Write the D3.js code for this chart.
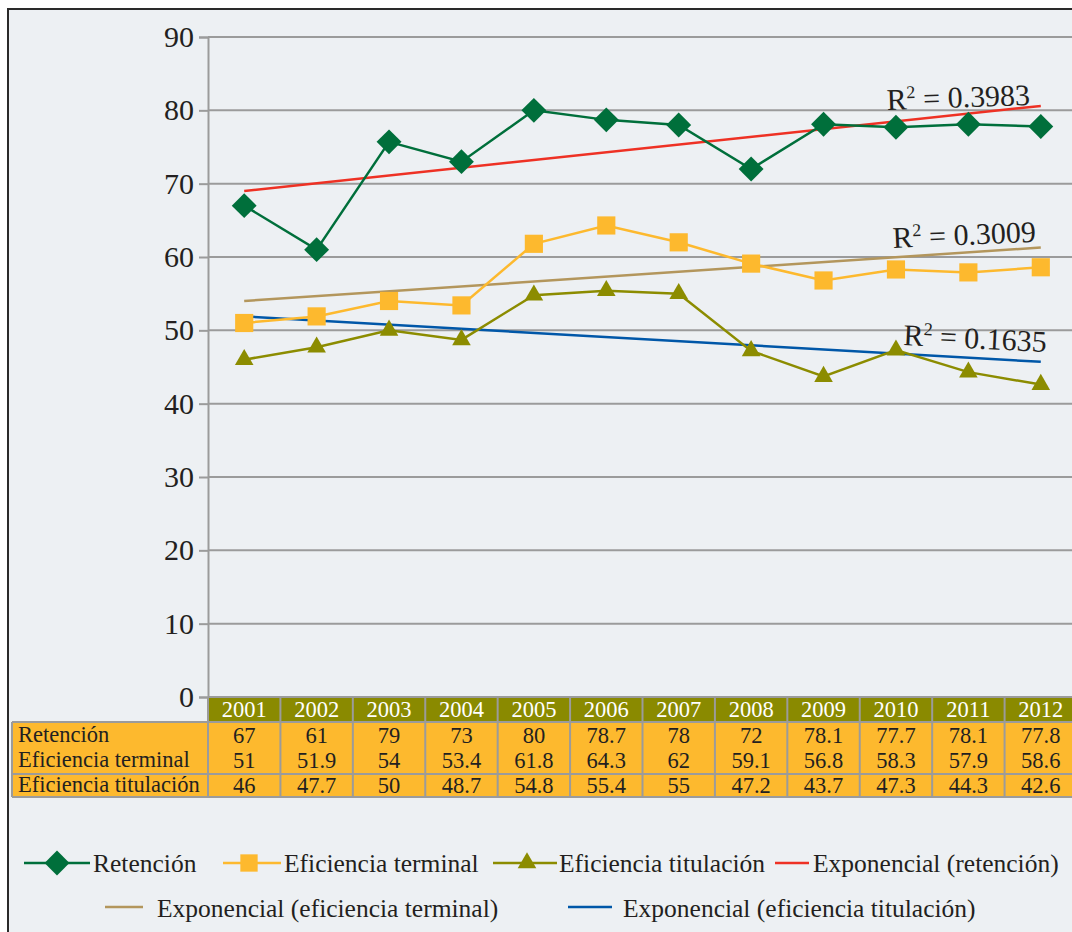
<!DOCTYPE html>
<html lang="es">
<head>
<meta charset="UTF-8">
<title>Retención y eficiencia 2001-2012</title>
<script src="https://cdnjs.cloudflare.com/ajax/libs/d3/7.8.5/d3.min.js"></script>
<style>
    body { margin: 0; background: #fff; }
    svg text { font-family: "Liberation Serif", "DejaVu Serif", serif; fill: #231f20; }
</style>
</head>
<body>
<svg width="1072" height="932"></svg>
<script>
    // data
    const years = ["2001", "2002", "2003", "2004", "2005", "2006", "2007", "2008", "2009", "2010", "2011", "2012"];
    // values as plotted in the chart
    const retencion = [67, 61, 75.7, 73, 80, 78.7, 78, 72, 78.1, 77.7, 78.1, 77.8];
    const eficienciaTerminal = [51, 51.9, 54, 53.4, 61.8, 64.3, 62, 59.1, 56.8, 58.3, 57.9, 58.6];
    const eficienciaTitulacion = [46, 47.7, 50, 48.7, 54.8, 55.4, 55, 47.2, 43.7, 47.3, 44.3, 42.6];
    // values as printed in the data table
    const tablaRetencion = ["67", "61", "79", "73", "80", "78.7", "78", "72", "78.1", "77.7", "78.1", "77.8"];
    const tablaTerminal = ["51", "51.9", "54", "53.4", "61.8", "64.3", "62", "59.1", "56.8", "58.3", "57.9", "58.6"];
    const tablaTitulacion = ["46", "47.7", "50", "48.7", "54.8", "55.4", "55", "47.2", "43.7", "47.3", "44.3", "42.6"];
    // exponential trend lines: value at 2001 and at 2012
    const trendRetencion = [69.0, 80.6];
    const trendTerminal = [54.0, 61.3];
    const trendTitulacion = [51.9, 45.7];
    const r2Labels = ["0.3983", "0.3009", "0.1635"];
    const yTicks = [0, 10, 20, 30, 40, 50, 60, 70, 80, 90];

    const svg = d3.select("svg");
    const grid = "#9b9b9b";
    const serif = "'Liberation Serif', 'DejaVu Serif', serif";

    // frame
    svg.append("rect")
        .attr("x", 8).attr("y", 9).attr("width", 1100).attr("height", 960)
        .attr("fill", "#edf0f3").attr("stroke", "#2a2a2a").attr("stroke-width", 2);

    const x = d3.scaleBand().domain(years).range([208, 1077]);
    const y = d3.scaleLinear().domain([0, 90]).range([697, 37]);
    const cx = d => x(d) + x.bandwidth() / 2;

    // gridlines
    svg.append("g").selectAll("line")
        .data(yTicks.filter(t => t > 0))
        .join("line")
        .attr("x1", 208).attr("x2", 1080)
        .attr("y1", d => y(d)).attr("y2", d => y(d))
        .attr("stroke", grid).attr("stroke-width", 2);

    // y axis
    const yAxis = svg.append("g")
        .attr("transform", "translate(208,0)")
        .call(d3.axisLeft(y).tickValues(yTicks).tickSize(9).tickPadding(5));
    yAxis.attr("font-family", null);
    yAxis.select(".domain").attr("stroke", grid).attr("stroke-width", 2);
    yAxis.selectAll(".tick line").attr("stroke", grid).attr("stroke-width", 2);
    yAxis.selectAll(".tick text")
        .style("font-family", serif)
        .style("font-size", "30px").style("fill", "#231f20");

    // data table
    const table = svg.append("g");
    const tTop = 697, tHead = 722, tMid = 774, tBot = 797;
    table.append("rect").attr("x", 208).attr("y", tTop).attr("width", 870).attr("height", tHead - tTop)
        .attr("fill", "#8a8a00");
    table.append("rect").attr("x", 12).attr("y", tHead).attr("width", 1066).attr("height", tBot - tHead)
        .attr("fill", "#fdb92e");
    table.selectAll("line.h")
        .data([[208, tTop], [12, tHead], [12, tMid], [12, tBot]])
        .join("line")
        .attr("x1", d => d[0]).attr("x2", 1080)
        .attr("y1", d => d[1]).attr("y2", d => d[1])
        .attr("stroke", grid).attr("stroke-width", 2);
    table.append("line").attr("x1", 12).attr("x2", 12).attr("y1", tHead).attr("y2", tBot)
        .attr("stroke", grid).attr("stroke-width", 2);
    table.selectAll("line.v")
        .data(years)
        .join("line")
        .attr("x1", d => x(d)).attr("x2", d => x(d))
        .attr("y1", tTop).attr("y2", tBot)
        .attr("stroke", grid).attr("stroke-width", 2);

    table.selectAll("text.year")
        .data(years)
        .join("text")
        .attr("x", cx).attr("y", 717)
        .attr("text-anchor", "middle").attr("font-size", 22.5)
        .style("fill", "#fff")
        .text(d => d);

    const rows = [
        { label: "Retención", values: tablaRetencion, y: 743 },
        { label: "Eficiencia terminal", values: tablaTerminal, y: 768 },
        { label: "Eficiencia titulación", values: tablaTitulacion, y: 793 }
    ];
    rows.forEach(r => {
        table.append("text").attr("x", 18).attr("y", r.y - 1).attr("font-size", 22.5).text(r.label);
        table.selectAll(null)
            .data(r.values)
            .join("text")
            .attr("x", (d, i) => cx(years[i])).attr("y", r.y)
            .attr("text-anchor", "middle").attr("font-size", 22.5)
            .text(d => d);
    });

    // trend lines
    const trends = [
        { vals: trendRetencion, color: "#ee3124" },
        { vals: trendTerminal, color: "#b3965c" },
        { vals: trendTitulacion, color: "#0057a8" }
    ];
    const line = d3.line().x(d => d[0]).y(d => y(d[1]));
    trends.forEach(t => {
        svg.append("path")
            .attr("d", line([[cx(years[0]), t.vals[0]], [cx(years[years.length - 1]), t.vals[1]]]))
            .attr("fill", "none").attr("stroke", t.color).attr("stroke-width", 2.5);
    });

    // series
    const series = [
        { name: "Retención", vals: retencion, color: "#006f3b", symbol: d3.symbolSquare, size: 310, rotate: 45 },
        { name: "Eficiencia terminal", vals: eficienciaTerminal, color: "#fdb92e", symbol: d3.symbolSquare, size: 330, rotate: 0 },
        { name: "Eficiencia titulación", vals: eficienciaTitulacion, color: "#8c8c00", symbol: d3.symbolTriangle, size: 150, rotate: 0 }
    ];
    series.forEach(s => {
        const pts = s.vals.map((v, i) => [cx(years[i]), v]);
        svg.append("path")
            .attr("d", line(pts))
            .attr("fill", "none").attr("stroke", s.color).attr("stroke-width", 2.5);
        svg.append("g").selectAll("path")
            .data(pts)
            .join("path")
            .attr("d", d3.symbol(s.symbol, s.size))
            .attr("transform", d => `translate(${d[0]},${y(d[1])}) rotate(${s.rotate})`)
            .attr("fill", s.color);
    });

    // R² labels
    const r2Pos = [[887, 110, -2], [893, 248, -2.5], [903, 345, 2.8]];
    r2Labels.forEach((v, i) => {
        const p = r2Pos[i];
        const t = svg.append("text")
            .attr("transform", `translate(${p[0]},${p[1]}) rotate(${p[2]})`)
            .attr("font-size", 30);
        t.append("tspan").text("R");
        t.append("tspan").attr("font-size", 18).attr("dy", -11).text("2");
        t.append("tspan").attr("dy", 11).text(" = " + v);
    });

    // legend
    const legend = svg.append("g");
    const legendItems = [
        { text: "Retención", color: "#006f3b", x1: 24, x2: 90, ly: 863, tx: 93, ty: 872, mark: "diamond" },
        { text: "Eficiencia terminal", color: "#fdb92e", x1: 223, x2: 281, ly: 863, tx: 284, ty: 872, mark: "square" },
        { text: "Eficiencia titulación", color: "#8c8c00", x1: 493, x2: 557, ly: 863, tx: 559, ty: 872, mark: "triangle" },
        { text: "Exponencial (retención)", color: "#ee3124", x1: 775, x2: 809, ly: 863, tx: 813, ty: 872 },
        { text: "Exponencial (eficiencia terminal)", color: "#b3965c", x1: 105, x2: 143, ly: 907, tx: 157, ty: 917 },
        { text: "Exponencial (eficiencia titulación)", color: "#0057a8", x1: 568, x2: 612, ly: 907, tx: 623, ty: 917 }
    ];
    legendItems.forEach(it => {
        legend.append("line")
            .attr("x1", it.x1).attr("x2", it.x2).attr("y1", it.ly).attr("y2", it.ly)
            .attr("stroke", it.color).attr("stroke-width", 2.5);
        const mx = (it.x1 + it.x2) / 2;
        if (it.mark === "diamond") {
            legend.append("path").attr("d", d3.symbol(d3.symbolSquare, 310))
                .attr("transform", `translate(${mx},${it.ly}) rotate(45)`).attr("fill", it.color);
        } else if (it.mark === "square") {
            legend.append("path").attr("d", d3.symbol(d3.symbolSquare, 300))
                .attr("transform", `translate(${mx - 3},${it.ly})`).attr("fill", it.color);
        } else if (it.mark === "triangle") {
            legend.append("path").attr("d", d3.symbol(d3.symbolTriangle, 150))
                .attr("transform", `translate(${mx + 2},${it.ly})`).attr("fill", it.color);
        }
        legend.append("text").attr("x", it.tx).attr("y", it.ty).attr("font-size", 25.5).text(it.text);
    });
</script>
</body>
</html>
